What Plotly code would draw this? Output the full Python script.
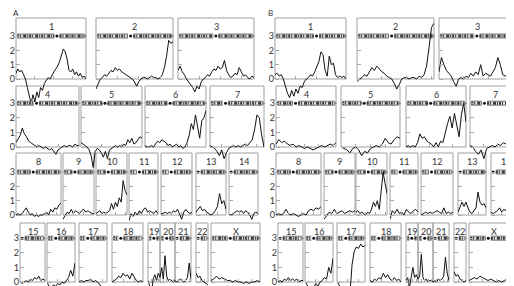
import plotly.graph_objects as go

W, H = 514, 286

chromosomes = ["1", "2", "3", "4", "5", "6", "7", "8", "9", "10", "11", "12",
               "13", "14", "15", "16", "17", "18", "19", "20", "21", "22", "X"]
centromere = [0.59, 0.45, 0.5, 0.32, 0.39, 0.41, 0.28, 0.38, 0.38, 0.39, 0.35, 0.32,
              0.0, 0.0, 0.0, 0.3, 0.3, 0.27, 0.5, 0.45, 0.08, 0.0, 0.39]
ytick_vals = [0, 1, 2, 3]
ytick_text = ["0", "1", "2", "3"]

# ---- Panel A scores ----
a1 = [0.4, 0.7, 0.5, 0.6, 0.3, 0.0, -0.6, -1.2, -1.7, -1.1, -1.6, -0.9, -1.3, -0.6, -0.8, -0.3, -0.1, 0.1, 0.0,
      0.3, 0.5, 0.7, 0.9, 1.2, 1.6, 2.1, 1.9, 1.4, 0.6, 0.5, 0.7, 0.3, 0.5, 0.2, 0.4, 0.1, 0.2, 0.0]
a2 = [-0.7, -0.3, 0.0, 0.1, 0.3, 0.2, 0.4, 0.6, 0.5, 0.8, 0.6, 0.7, 0.5, 0.4, 0.3, 0.2, 0.1, 0.0, -0.2, -0.5,
      -0.2, 0.0, 0.1, 0.1, 0.0, 0.1, 0.2, 0.1, 0.1, 0.0, 0.1, 0.3, 0.8, 1.6, 2.7, 2.5, 2.6]
a3 = [0.6, 0.9, 0.5, 0.3, 0.0, -0.2, -0.4, -0.6, -0.9, -0.5, -0.7, -0.2, 0.0, 0.1, 0.3, 0.2, 0.5, 0.7, 0.6,
      0.9, 0.7, 0.8, 1.3, 0.6, 0.3, 0.1, 0.2, 0.4, 0.3, 0.8, 0.5, 0.2, 0.3, 0.1, 0.0, 0.2, 0.1]
a4 = [0.3, 0.6, 0.8, 1.3, 0.9, 0.7, 0.4, 0.3, 0.2, 0.1, 0.0, 0.1, 0.0, -0.1, 0.0, -0.1, -0.2, -0.1, -0.3,
      -0.5, -0.2, -0.1, 0.0, 0.1, 0.0, 0.1, 0.1, 0.0, 0.2, 0.1, 0.1]
a5 = [0.3, 0.2, 0.1, 0.0, -0.2, -0.6, -1.4, -0.3, -0.1, -0.2, -0.4, -0.7, -0.3, -0.8, -0.2, -0.1, 0.0, 0.1,
      0.0, 0.1, 0.0, 0.2, 0.1, 0.5, 0.3, 0.6, 0.2, 0.3, 0.5, 0.7, 0.6]
a6 = [0.1, 0.0, 0.0, 0.1, 0.0, 0.2, 0.4, 0.3, 0.5, 0.4, 0.3, 0.1, 0.2, 0.0, 0.1, 0.2, 0.0, 0.1, -0.1, 0.0,
      0.3, 0.8, 1.6, 1.2, 2.2, 1.4, 0.6, 1.8, 2.0, 2.5]
a7 = [0.1, 0.0, -0.1, -0.3, -0.6, -0.2, -0.8, -0.4, -0.1, 0.0, 0.1, 0.0, 0.1, 0.0, 0.1, 0.2, 0.1, 0.3, 0.5,
      1.2, 2.2, 2.0, 0.8, 0.0]
a8 = [0.0, 0.1, 0.0, 0.1, 0.3, 0.5, 0.2, 0.0, 0.1, -0.1, 0.0, -0.1, 0.0, 0.0, 0.1, 0.2, 0.0, 0.4, 0.2, 0.5,
      0.4, 0.7, 0.85]
a9 = [-0.3, 0.0, 0.2, 0.1, 0.4, 0.1, 0.3, 0.2, 0.1, 0.3, 0.4, 0.2, 0.3, 0.2, 0.1, 0.1]
a10 = [0.1, 0.2, 0.3, 0.1, 0.2, 0.1, 0.2, 0.3, 0.8, 0.4, 0.9, 0.6, 1.2, 0.9, 2.4, 1.7, 1.4]
a11 = [-0.4, 0.1, -0.1, 0.2, 0.0, 0.3, 0.1, 0.4, 0.5, 0.2, 0.3, 0.2, 0.1, 0.3, 0.1]
a12 = [0.1, 0.1, 0.2, 0.1, 0.2, 0.1, 0.3, 0.2, 0.4, 0.1, -0.3, 0.2, 0.4, 0.2, 0.1, 0.2]
a13 = [0.2, 0.4, 0.6, 0.3, 0.4, 0.2, 0.1, 0.0, 0.1, 0.3, 0.6, 1.5, 0.8, 1.0, 0.4]
a14 = [0.0, 0.0, 0.1, 0.2, 0.3, 0.2, 0.3, 0.1, 0.3, 0.2, 0.0, -0.3, 0.1, 0.2, 0.1]
a15 = [0.0, -0.1, 0.0, 0.1, 0.0, 0.2, 0.1, 0.3, 0.2, 0.4, 0.1, 0.2, 0.1]
a16 = [0.0, -0.3, -0.4, -0.2, -0.3, -0.1, -0.2, 0.0, -0.1, 0.1, 0.3, 0.8, 0.4, 1.3]
a17 = [0.0, 0.1, 0.0, 0.1, 0.1, 0.2, 0.0, 0.1, 0.0, -0.2, -0.5, -0.9, -1.2]
a18 = [0.0, 0.1, 0.2, 0.4, 0.3, 0.6, 0.4, 0.5, 0.2, 0.6, 0.3, 0.1, 0.0, 0.1, 0.0]
a19 = [0.1, -0.3, -1.0, 0.2, 0.5, 0.1, 0.6, 0.3]
a20 = [0.3, 1.0, 0.2, 1.8, 0.4, 0.1, 0.2, 0.1, 0.0, 0.1]
a21 = [0.1, 0.0, 0.1, 0.2, 0.1, 0.0, 0.1, 0.3, 1.3, 0.2]
a22 = [0.6, 0.3, 0.4, 0.1, 0.0, -0.1, -0.2]
aX = [0.1, 0.2, 0.4, 0.2, 0.3, 0.2, 0.1, 0.1, 0.0, 0.1, 0.0, 0.0, -0.1, 0.0, -0.1, 0.0, 0.0, 0.1, 0.0]

# ---- Panel B scores ----
b1 = [0.3, 0.4, 0.2, 0.3, 0.0, -0.5, -1.0, -1.3, -0.8, -1.2, -0.7, -1.0, -0.5, -0.6, -0.2, 0.0, 0.1, 0.3, 0.2,
      0.5, 0.8, 1.2, 1.9, 1.7, 0.6, 0.2, 1.6, 1.0, 1.1, 0.3, 0.1, 0.2, 0.1, 0.2, 0.0]
b2 = [-0.2, 0.0, 0.1, 0.3, 0.2, 0.5, 0.8, 0.6, 0.9, 0.7, 0.5, 0.4, 0.2, 0.1, 0.0, -0.3, -0.7, -0.4, 0.0, 0.1,
      0.1, 0.0, 0.1, 0.1, 0.0, 0.2, 0.1, 0.3, 0.9, 2.2, 3.6, 3.9]
b3 = [0.5, 1.5, 1.0, 0.6, 0.4, 0.2, -0.2, -0.5, 0.0, 0.1, 0.0, 0.2, 0.1, 0.4, 0.2, 0.5, 0.3, 1.0, 0.2, 0.4,
      0.3, 0.2, 0.5, 0.8, 1.5, 1.0, 0.3, 0.2, 0.4, 0.1, -0.1, 0.0]
b4 = [0.2, 0.5, 0.3, 0.4, 0.2, 0.1, 0.2, 0.0, 0.1, 0.0, -0.1, 0.0, -0.1, -0.2, -0.1, 0.0, 0.1, 0.0, 0.1, 0.2,
      0.1, 0.3]
b5 = [0.0, -0.1, -0.2, -0.4, -0.1, 0.0, -0.2, -0.6, -0.3, -0.4, -0.1, 0.0, 0.1, 0.0, 0.2, 0.6, 0.3, 0.2, 0.5,
      0.7, 0.6]
b6 = [0.0, 0.1, 0.0, 0.1, 0.0, 0.3, 0.9, 0.6, 0.7, 0.4, 0.3, 0.2, 0.0, 0.3, 0.0, 0.4, 0.3, 1.0, 1.6, 2.1, 1.3,
      2.3, 1.6, 0.7, 2.2, 3.0, 1.7]
b7 = [0.1, 0.0, -0.3, -0.5, -0.2, -0.8, -0.1, 0.0, 0.1, 0.0, 0.2, 0.1, 0.3, 0.2, 0.4, 1.2, 1.8, 1.6, 0.4]
b8 = [0.0, 0.1, 0.0, 0.1, 0.4, 0.1, 0.0, 0.1, 0.0, -0.1, 0.0, 0.1, 0.0, 0.3, 0.4, 0.3, 0.5, 0.4, 0.6]
b9 = [-0.3, 0.0, 0.2, 0.1, 0.4, 0.1, 0.2, 0.3, 0.1, 0.2, 0.3, 0.2, 0.3]
b10 = [0.2, 0.3, 0.1, 0.2, 0.1, 0.0, 0.2, 0.1, 0.4, 0.9, 0.6, 1.0, 0.4, 1.8, 3.0, 2.2, 1.5]
b11 = [-0.3, 0.3, 0.1, 0.4, 0.1, 0.2, 0.0, 0.4, 0.2, 0.1, 0.3, 0.4, 0.2]
b12 = [0.0, 0.1, 0.2, 0.1, 0.2, 0.1, 0.2, 0.3, 0.2, 0.1, 0.5, 0.1, 0.2, 0.1, 0.2]
b13 = [0.2, 0.5, 0.9, 0.6, 0.9, 0.5, 0.2, 0.1, 0.3, 0.5, 1.6, 0.9, 0.7, 0.8, 0.5]
b14 = [0.2, 0.1, 0.2, 0.3, 0.5, 0.2, 0.4, 0.3, 0.5, 0.2, 0.1, 0.2, 0.0, 0.1, 0.1]
b15 = [0.0, 0.1, 0.0, 0.2, 0.1, 0.3, 0.1, 0.2, 0.1, 0.2, 0.0, 0.1, 0.1]
b16 = [0.0, -0.2, -0.5, -0.3, -0.4, -0.1, -0.3, 0.0, 0.1, 0.3, 0.2, 1.0, 0.6, 1.6]
b17 = [0.0, -0.2, -0.6, -0.4, -0.7, -0.9, -0.8, 1.2, 2.1, 2.4, 2.3, 2.6, 2.4, 2.5]
b18 = [0.1, 0.0, 0.2, 0.1, 0.3, 0.2, 0.6, 0.3, 0.5, 0.2, 0.1, 0.3, 0.1, 0.2, 0.0]
b19 = [0.1, 0.3, -0.4, 0.2, 1.0, 0.3, 0.5, 0.2]
b20 = [0.2, 0.4, 1.9, 0.3, 0.1, 0.2, 0.0, 0.1, 0.1, 0.0]
b21 = [0.0, 0.1, 0.0, 0.2, 0.1, 0.2, 0.4, 1.7, 0.6, 0.1]
b22 = [0.7, 0.4, 0.5, 0.2, 0.1, 0.0, 0.1]
bX = [0.1, 0.2, 0.3, 0.2, 0.4, 0.3, 0.2, 0.1, 0.2, 0.1, 0.0, 0.1, 0.0, 0.1, 0.2, 0.1, 0.0, 0.1, 0.2]

scores_A = [a1, a2, a3, a4, a5, a6, a7, a8, a9, a10, a11, a12, a13, a14, a15, a16, a17, a18, a19, a20, a21, a22, aX]
scores_B = [b1, b2, b3, b4, b5, b6, b7, b8, b9, b10, b11, b12, b13, b14, b15, b16, b17, b18, b19, b20, b21, b22, bX]

# ---- layout (pixel geometry of each row: zero line, px per unit, box top, box x-extents) ----
rows_A = [
    (71, 14.3, 10, [(8, 78), (88, 165), (170, 246)]),
    (139, 14.6, 78, [(8, 71), (73, 134), (137, 198), (202, 256)]),
    (207, 14.3, 145, [(8, 53), (55, 86), (88, 119), (121, 150), (153, 184), (188, 218), (221, 250)]),
    (274, 14.6, 215, [(12, 37), (39, 67), (71, 99), (104, 135), (140, 152), (152, 167), (167, 183), (188, 200),
                      (203, 252)]),
]
rows_B = [
    (71, 14.3, 10, [(267, 338), (349, 426), (431, 507)]),
    (139, 14.6, 78, [(268, 328), (333, 392), (398, 458), (462, 512)]),
    (207, 14.3, 145, [(268, 313), (316, 347), (348, 379), (382, 410), (413, 445), (450, 478), (483, 513)]),
    (274, 14.6, 215, [(270, 295), (297, 325), (329, 357), (362, 393), (398, 410), (410, 425), (425, 441),
                      (446, 458), (461, 510)]),
]

FONT = "Lato"
fig = go.Figure()
lay = {}
shapes = []
annotations = [
    dict(x=3 / W, y=1 - 5 / H, xref="paper", yref="paper", text="A", showarrow=False,
         font=dict(size=8, color="#333", family=FONT), xanchor="left", yanchor="middle"),
    dict(x=258 / W, y=1 - 5 / H, xref="paper", yref="paper", text="B", showarrow=False,
         font=dict(size=8, color="#333", family=FONT), xanchor="left", yanchor="middle"),
]

k = 0
for scores, rows in ((scores_A, rows_A), (scores_B, rows_B)):
    ci = 0
    for (y0px, unit, toppx, boxes) in rows:
        for j, (left, right) in enumerate(boxes):
            k += 1
            vals = scores[ci]
            chrom = chromosomes[ci]
            cfrac = centromere[ci]
            ci += 1
            n = len(vals)
            xs = list(range(n))
            bottom_px = min(285.9, y0px + 2.6 * unit)
            ymin = -(bottom_px - y0px) / unit
            ymax = (y0px - toppx) / unit
            xn = "x" if k == 1 else f"x{k}"
            yn = "y" if k == 1 else f"y{k}"
            xkey = "xaxis" if k == 1 else f"xaxis{k}"
            ykey = "yaxis" if k == 1 else f"yaxis{k}"
            span = n - 1
            lay[xkey] = dict(domain=[left / W, right / W], range=[0, span], anchor="free",
                             position=1 - y0px / H, showgrid=False, zeroline=False, showline=False,
                             ticks="inside", ticklen=3, tickcolor="#aaa", tickwidth=1,
                             showticklabels=False, nticks=5, fixedrange=True)
            lay[ykey] = dict(domain=[1 - bottom_px / H, 1 - toppx / H], range=[ymin, ymax], anchor=xn,
                             showgrid=False, zeroline=False, showline=False,
                             tickmode="array", tickvals=ytick_vals, ticktext=ytick_text,
                             ticks="inside", ticklen=4, tickcolor="#aaa", tickwidth=1,
                             showticklabels=(j == 0),
                             tickfont=dict(size=9, color="#333", family=FONT), fixedrange=True)
            shapes.append(dict(type="rect", xref="paper", yref="paper", x0=left / W, x1=right / W,
                               y0=1 - y0px / H, y1=1 - toppx / H, line=dict(color="#a0a0a0", width=1),
                               layer="below"))
            annotations.append(dict(x=(left + right) / 2 / W, y=1 - (toppx + 8.5) / H, xref="paper",
                                    yref="paper", text=chrom, showarrow=False,
                                    font=dict(size=9, color="#333", family=FONT),
                                    xanchor="center", yanchor="middle"))
            # ideogram
            pxu = span / (right - left)
            xs0 = 1.2 * pxu
            xs1 = span - 1.5 * pxu
            xc = xs0 + cfrac * (xs1 - xs0)
            gap = 2.6 * pxu
            arms = []
            if xc - gap > xs0 + pxu:
                arms.append((xs0, xc - gap))
            else:
                xc = xs0 + 1.0 * pxu
            arms.append((xc + gap, xs1))
            for (a0, a1_) in arms:
                fig.add_trace(go.Scatter(x=[a0, a1_], y=[3, 3], mode="lines", xaxis=xn, yaxis=yn,
                                         line=dict(color="#7a7a7a", width=5), hoverinfo="skip", showlegend=False,
                                         cliponaxis=False))
                fig.add_trace(go.Scatter(x=[a0, a1_], y=[3, 3], mode="lines", xaxis=xn, yaxis=yn,
                                         line=dict(color="#e8e8e8", width=3), hoverinfo="skip", showlegend=False,
                                         cliponaxis=False))
                fig.add_trace(go.Scatter(x=[a0, a1_], y=[3, 3], mode="lines", xaxis=xn, yaxis=yn,
                                         line=dict(color="#3a3a3a", width=3, dash="2px,1px,1px,2px,3px,1px,1px,1px"),
                                         hoverinfo="skip", showlegend=False, cliponaxis=False))
            fig.add_trace(go.Scatter(x=[xs1 + 0.6 * pxu], y=[3], mode="markers", xaxis=xn, yaxis=yn,
                                     marker=dict(color="#8a8a8a", size=4, symbol="triangle-right"),
                                     hoverinfo="skip", showlegend=False, cliponaxis=False))
            fig.add_trace(go.Scatter(x=[xc], y=[3], mode="markers", xaxis=xn, yaxis=yn,
                                     marker=dict(color="#111", size=3), hoverinfo="skip", showlegend=False))
            # score curve
            fig.add_trace(go.Scatter(x=xs, y=vals, mode="lines", xaxis=xn, yaxis=yn,
                                     line=dict(color="#111", width=1), hoverinfo="skip", showlegend=False))

fig.update_layout(width=W, height=H, margin=dict(l=0, r=0, t=0, b=0),
                  paper_bgcolor="white", plot_bgcolor="rgba(0,0,0,0)",
                  shapes=shapes, annotations=annotations, showlegend=False,
                  font=dict(family=FONT, size=9, color="#333"), **lay)
fig.write_html("out.html")
